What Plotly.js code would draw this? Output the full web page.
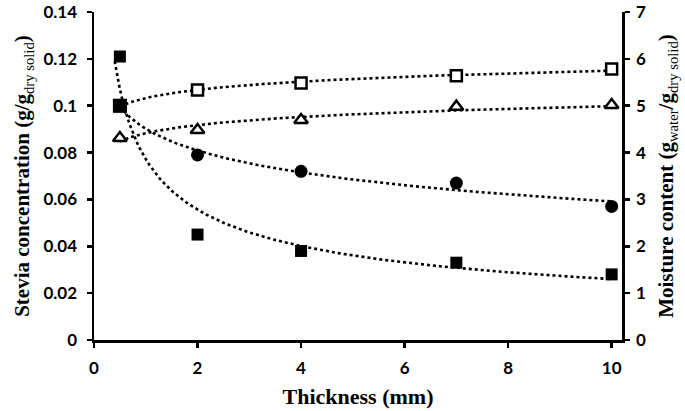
<!DOCTYPE html>
<html>
<head>
<meta charset="utf-8">
<script src="https://cdn.plot.ly/plotly-3.0.1.min.js"></script>
<style>html,body{margin:0;padding:0;background:#fff;}#chart{width:685px;height:411px;}</style>
</head>
<body>
<div id="chart"></div>
<script>
// Data
const thickness = [0.5, 2, 4, 7, 10];                        // mm
const steviaSquares = [0.121, 0.045, 0.038, 0.033, 0.028];   // g/g dry solid (filled squares)
const steviaCircles = [0.100, 0.079, 0.072, 0.067, 0.057];   // g/g dry solid (filled circles)
const moistureSquares = [5.00, 5.335, 5.485, 5.64, 5.785];   // g water/g dry solid (open squares)
const moistureTriangles = [4.31, 4.48, 4.695, 4.98, 5.015];  // g water/g dry solid (open triangles)
const xTickVals = [0, 2, 4, 6, 8, 10];

// Excel-style trendlines fitted to the data above (least squares)
function logFit(xs, ys) {
  const lx = xs.map(Math.log);
  const n = xs.length;
  const mx = lx.reduce((a, b) => a + b, 0) / n;
  const my = ys.reduce((a, b) => a + b, 0) / n;
  let sxy = 0, sxx = 0;
  for (let i = 0; i < n; i++) { sxy += (lx[i] - mx) * (ys[i] - my); sxx += (lx[i] - mx) ** 2; }
  const b = sxy / sxx, a = my - b * mx;
  return x => a + b * Math.log(x);
}
function powerFit(xs, ys) {
  const lx = xs.map(Math.log), ly = ys.map(Math.log);
  const n = xs.length;
  const mx = lx.reduce((a, b) => a + b, 0) / n;
  const my = ly.reduce((a, b) => a + b, 0) / n;
  let sxy = 0, sxx = 0;
  for (let i = 0; i < n; i++) { sxy += (lx[i] - mx) * (ly[i] - my); sxx += (lx[i] - mx) ** 2; }
  const b = sxy / sxx, a = Math.exp(my - b * mx);
  return x => a * Math.pow(x, b);
}
function sampleCurve(f, x0, x1) {
  const xs = [], ys = [];
  const steps = 200;
  for (let i = 0; i <= steps; i++) { const x = x0 + (x1 - x0) * i / steps; xs.push(x); ys.push(f(x)); }
  return {xs, ys};
}
const xMax = thickness[thickness.length - 1];
const tSq = sampleCurve(powerFit(thickness, steviaSquares), 0.4, xMax);
const tCi = sampleCurve(logFit(thickness, steviaCircles), thickness[0], xMax);
const tOs = sampleCurve(logFit(thickness, moistureSquares), thickness[0], xMax);
const tTr = sampleCurve(logFit(thickness, moistureTriangles), thickness[0], xMax);

const dotLine = {color: '#000', width: 2.6, dash: 'dot'};
// moisture series on 'y' (right axis, drawn first); stevia series on 'y2' (left axis, drawn on top)
const traces = [
  {x: tOs.xs, y: tOs.ys, yaxis: 'y', mode: 'lines', line: dotLine, hoverinfo: 'skip'},
  {x: tTr.xs, y: tTr.ys, yaxis: 'y', mode: 'lines', line: dotLine, hoverinfo: 'skip'},
  {x: thickness, y: moistureSquares, yaxis: 'y', mode: 'markers', name: 'Moisture A',
   marker: {symbol: 'square', size: 11, color: '#fff', opacity: 1, line: {color: '#000', width: 2.5}}},
  {x: thickness, y: moistureTriangles, yaxis: 'y', mode: 'markers', name: 'Moisture B',
   marker: {symbol: 'triangle-up', size: 12, color: '#fff', opacity: 1, line: {color: '#000', width: 2.5}}},
  {x: tSq.xs, y: tSq.ys, yaxis: 'y2', mode: 'lines', line: dotLine, hoverinfo: 'skip'},
  {x: tCi.xs, y: tCi.ys, yaxis: 'y2', mode: 'lines', line: dotLine, hoverinfo: 'skip'},
  {x: thickness, y: steviaSquares, yaxis: 'y2', mode: 'markers', name: 'Stevia A',
   marker: {symbol: 'square', size: 12, color: '#000', opacity: 1, line: {width: 0}}},
  {x: thickness, y: steviaCircles, yaxis: 'y2', mode: 'markers', name: 'Stevia B',
   marker: {symbol: ['square', 'circle', 'circle', 'circle', 'circle'], size: [14, 13, 13, 13, 13],
            color: '#000', opacity: 1, line: {width: 0}}}
];

const tickFont = {family: 'Lato, sans-serif', size: 17, color: '#000', weight: 'bold'};
const serif = '"Liberation Serif", "Times New Roman", serif';
const layout = {
  width: 685, height: 411,
  margin: {l: 94, r: 63, t: 12, b: 71, pad: 0},
  paper_bgcolor: '#fff', plot_bgcolor: '#fff',
  showlegend: false,
  xaxis: {
    range: [0, 10.2], tickvals: xTickVals, ticktext: xTickVals.map(String),
    showgrid: false, zeroline: false, showline: true, linecolor: '#000', linewidth: 2.5,
    ticks: 'outside', ticklen: 5, tickwidth: 2.5, tickcolor: '#000', tickfont: tickFont,
    ticklabelstandoff: 6,
    title: {text: '<b>Thickness (mm)</b>', font: {family: serif, size: 22, color: '#000'}, standoff: 12}
  },
  yaxis: {
    range: [0, 7], dtick: 1, side: 'right',
    showgrid: false, zeroline: false, showline: true, linecolor: '#000', linewidth: 2.5,
    ticks: 'outside', ticklen: 5, tickwidth: 2.5, tickcolor: '#000', tickfont: tickFont,
    ticklabelstandoff: 3,
    title: {text: '<b>Moisture content (g</b><sub>water</sub><b>/g</b><sub>dry solid</sub><b>)</b>',
            font: {family: serif, size: 21, color: '#000'}, standoff: 14}
  },
  yaxis2: {
    range: [0, 0.14], dtick: 0.02, overlaying: 'y', side: 'left',
    showgrid: false, zeroline: false, showline: true, linecolor: '#000', linewidth: 2.5,
    ticks: 'outside', ticklen: 5, tickwidth: 2.5, tickcolor: '#000', tickfont: tickFont,
    ticklabelstandoff: 6,
    title: {text: '<b>Stevia concentration (g/g</b><sub>dry solid</sub><b>)</b>',
            font: {family: serif, size: 21, color: '#000'}, standoff: 8}
  }
};
Plotly.newPlot('chart', traces, layout, {displayModeBar: false, staticPlot: true});
</script>
</body>
</html>
